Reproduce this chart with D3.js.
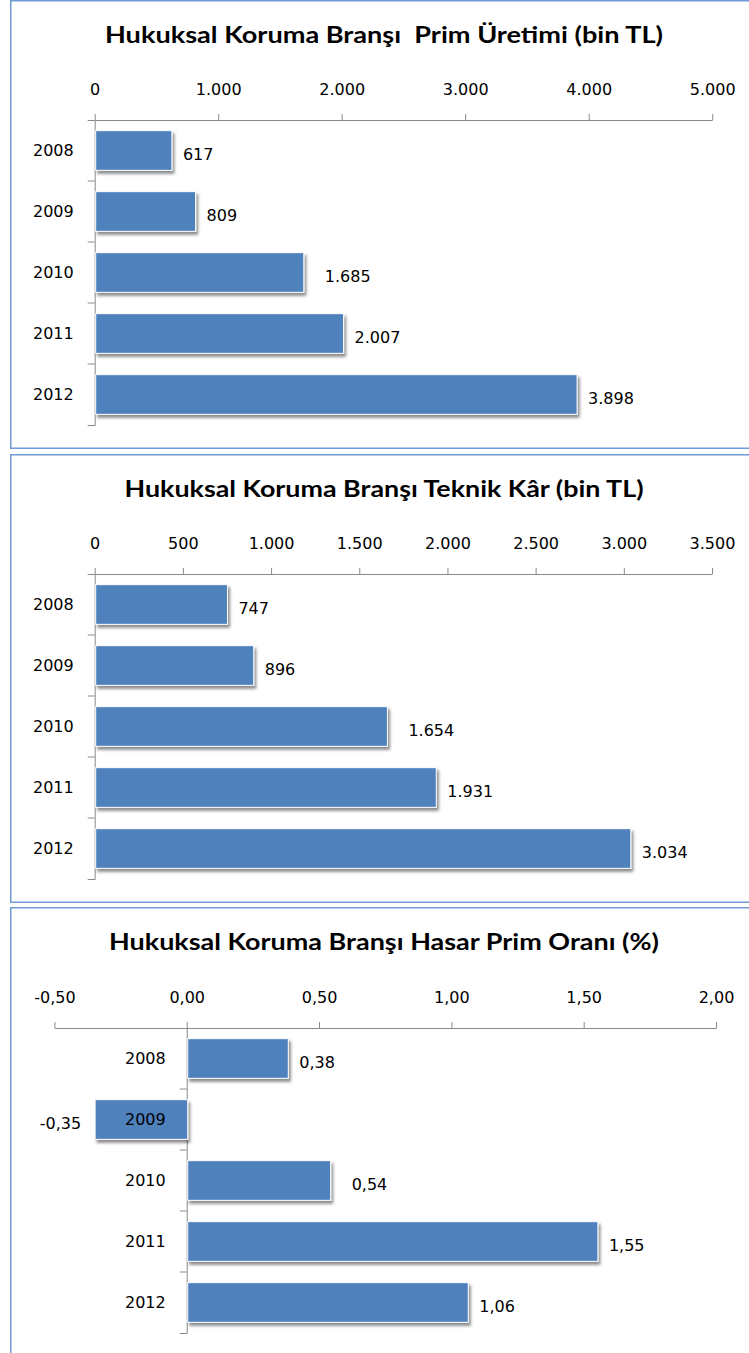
<!DOCTYPE html>
<html>
<head>
<meta charset="utf-8">
<script src="https://cdn.jsdelivr.net/npm/d3@7"></script>
<style>
  body { margin: 0; background: #fff; }
  text { font-family: "DejaVu Sans", sans-serif; fill: #000; }
  .title { font-family: Lato, sans-serif; font-weight: bold; white-space: pre; }
</style>
</head>
<body>
<script>
// data
const years = ["2008", "2009", "2010", "2011", "2012"];
const primUretimi = [617, 809, 1685, 2007, 3898];
const teknikKar = [747, 896, 1654, 1931, 3034];
const hasarPrimOrani = [0.38, -0.35, 0.54, 1.55, 1.06];

const primTicks = [0, 1000, 2000, 3000, 4000, 5000];
const karTicks = [0, 500, 1000, 1500, 2000, 2500, 3000, 3500];
const oranTicks = [-0.5, 0, 0.5, 1, 1.5, 2];

const titles = [
  "Hukuksal Koruma Branşı  Prim Üretimi (bin TL)",
  "Hukuksal Koruma Branşı Teknik Kâr (bin TL)",
  "Hukuksal Koruma Branşı Hasar Prim Oranı (%)"
];

const tr = d3.formatLocale({decimal: ",", thousands: ".", grouping: [3], currency: ["", " TL"], minus: "-"});
const fmtInt = tr.format(",");
const fmtDec = tr.format(".2f");

const W = 749, H = 1353;
const svg = d3.select("body").append("svg").attr("width", W).attr("height", H);

const defs = svg.append("defs");
defs.append("filter").attr("id", "shadow")
    .attr("x", "-10%").attr("y", "-20%").attr("width", "130%").attr("height", "160%")
  .append("feDropShadow")
    .attr("dx", 2).attr("dy", 3).attr("stdDeviation", 1.6)
    .attr("flood-color", "#000").attr("flood-opacity", 0.45);

function drawPanel(opt) {
  var g = svg.append("g").attr("transform", "translate(0," + opt.top + ")");

  // panel frame
  g.append("rect")
      .attr("x", 10.75).attr("y", 0.75)
      .attr("width", 760).attr("height", opt.frameH)
      .attr("fill", "none").attr("stroke", "#6f9ad6").attr("stroke-width", 1.5);

  g.append("text").attr("class", "title")
      .attr("x", 384).attr("y", 43)
      .attr("text-anchor", "middle")
      .attr("font-size", 23)
      .attr("textLength", opt.titleW).attr("lengthAdjust", "spacingAndGlyphs")
      .text(opt.title);

  var x = d3.scaleLinear().domain(opt.domain).range(opt.range);
  var y = d3.scaleBand().domain(years).range([opt.axisY, opt.axisY + 305])
      .paddingInner(0.35).paddingOuter(0.175);
  var x0 = x(0);

  // top value axis
  var xa = g.append("g").attr("transform", "translate(0," + opt.axisY + ")")
      .call(d3.axisTop(x).tickValues(opt.ticks).tickFormat(opt.fmt)
        .tickSize(6).tickSizeOuter(0).tickPadding(19));
  xa.select(".domain").attr("stroke", "#8a8a8a");
  xa.selectAll(".tick line").attr("stroke", "#8a8a8a");
  xa.selectAll(".tick text").attr("font-size", 16).attr("font-family", "DejaVu Sans").attr("fill", "#000");

  // category axis (ticks at band boundaries)
  var ya = g.append("g").attr("transform", "translate(" + x0 + ",0)")
      .call(d3.axisLeft(y).tickValues([]).tickSizeOuter(7));
  ya.select(".domain").attr("stroke", "#8a8a8a");
  g.selectAll(".bound").data(years.slice(0, -1)).enter().append("line")
      .attr("x1", x0 - 7).attr("x2", x0)
      .attr("y1", function(d) { return y(d) + y.bandwidth() + (y.step() - y.bandwidth()) / 2; })
      .attr("y2", function(d) { return y(d) + y.bandwidth() + (y.step() - y.bandwidth()) / 2; })
      .attr("stroke", "#8a8a8a");

  // bars
  g.selectAll(".bar").data(opt.values).enter().append("rect")
      .attr("x", function(d) { return Math.min(x(d), x0) + 1; })
      .attr("y", function(d, i) { return y(years[i]); })
      .attr("width", function(d) { return Math.abs(x(d) - x0); })
      .attr("height", y.bandwidth())
      .attr("fill", "#4f81bd")
      .attr("stroke", "#ffffff").attr("stroke-width", 1)
      .attr("filter", "url(#shadow)");

  // category labels
  g.selectAll(".cat").data(years).enter().append("text")
      .attr("x", x0 - 21)
      .attr("y", function(d) { return y(d) + y.bandwidth() / 2; })
      .attr("dy", "0.35em")
      .attr("text-anchor", "end")
      .attr("font-size", 16)
      .text(function(d) { return d; });

  // value labels
  g.selectAll(".val").data(opt.values).enter().append("text")
      .attr("x", function(d, i) {
        var gap = i === 2 ? 22 : 12;
        return d < 0 ? x(d) - 13 : x(d) + gap;
      })
      .attr("y", function(d, i) { return y(years[i]) + y.bandwidth() / 2 + 4; })
      .attr("dy", "0.35em")
      .attr("text-anchor", function(d) { return d < 0 ? "end" : "start"; })
      .attr("font-size", 16)
      .text(function(d) { return opt.fmt(d); });
}

drawPanel({top: 0, frameH: 447.5, title: titles[0], titleW: 558, values: primUretimi,
  domain: [0, 5000], range: [94.7, 712.2], ticks: primTicks, fmt: fmtInt, axisY: 120});
drawPanel({top: 454, frameH: 447.5, title: titles[1], titleW: 519, values: teknikKar,
  domain: [0, 3500], range: [94.7, 712], ticks: karTicks, fmt: fmtInt, axisY: 120});
drawPanel({top: 907, frameH: 460, title: titles[2], titleW: 550, values: hasarPrimOrani,
  domain: [-0.5, 2], range: [54.4, 716], ticks: oranTicks, fmt: fmtDec, axisY: 121});
</script>
</body>
</html>
